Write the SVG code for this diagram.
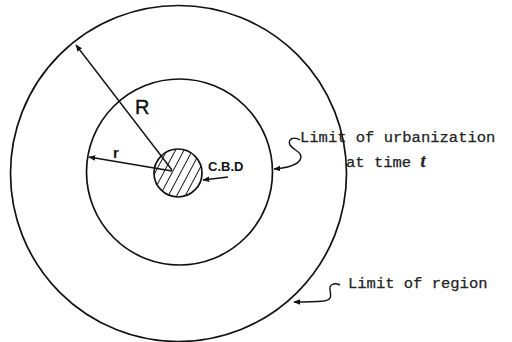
<svg xmlns="http://www.w3.org/2000/svg" width="512" height="342" viewBox="0 0 512 342">
<defs>
<marker id="ah" viewBox="0 0 10 10" refX="9" refY="5" markerWidth="5" markerHeight="5" orient="auto-start-reverse" markerUnits="strokeWidth">
<path d="M0,1 L10,5 L0,9 z" fill="#111"/>
</marker>
<pattern id="hatch" patternUnits="userSpaceOnUse" width="7.5" height="7.5" patternTransform="rotate(28)">
<line x1="0" y1="0" x2="0" y2="7.5" stroke="#111" stroke-width="1.9"/>
</pattern>
</defs>
<style>
.ring{fill:none;stroke:#111;stroke-width:1.7}
.conn{fill:none;stroke:#111;stroke-width:1.4}
.mono{font-family:"Liberation Mono","Courier New",monospace;font-size:15.5px;fill:#222;stroke:#222;stroke-width:0.25}
.sans{font-family:"Liberation Sans",Arial,sans-serif;fill:#111}
</style>
<rect width="512" height="342" fill="#fff"/>
<g id="region">
<circle class="ring" cx="178.5" cy="173.5" r="168"/>
</g>
<g id="urban">
<circle class="ring" cx="179.5" cy="172" r="93"/>
</g>
<g id="cbd">
<circle cx="178" cy="173" r="24" fill="url(#hatch)"/>
<circle class="ring" cx="178" cy="173" r="24"/>
</g>
<g id="connectors">
<line class="conn" x1="172" y1="170" x2="76" y2="45" marker-end="url(#ah)"/>
<line class="conn" x1="172" y1="171" x2="89" y2="157" marker-end="url(#ah)"/>
<line class="conn" x1="228" y1="177" x2="203" y2="180" marker-end="url(#ah)"/>
<path class="conn" d="M300,140 C294,136 287,139 290,145 C294,151 304,152 300,160 C296,166 286,168 274,169" marker-end="url(#ah)"/>
<path class="conn" d="M340,285 C334,282 329,285 330,290 C331,296 332,300 324,301 C312,302 302,302 294,302" marker-end="url(#ah)"/>
</g>
<g id="labels">
<text class="sans" x="135" y="114" font-size="20" stroke="#111" stroke-width="0.4">R</text>
<text class="sans" x="113" y="158" font-size="15" font-weight="bold">r</text>
<text class="sans" x="208" y="171" font-size="13" font-weight="bold">C.B.D</text>
<text class="mono" x="300" y="142">Limit of urbanization</text>
<text class="mono" x="346" y="167">at time <tspan font-family="'Liberation Serif',serif" font-weight="bold" font-style="italic" font-size="18">t</tspan></text>
<text class="mono" x="348" y="288">Limit of region</text>
</g>
</svg>
